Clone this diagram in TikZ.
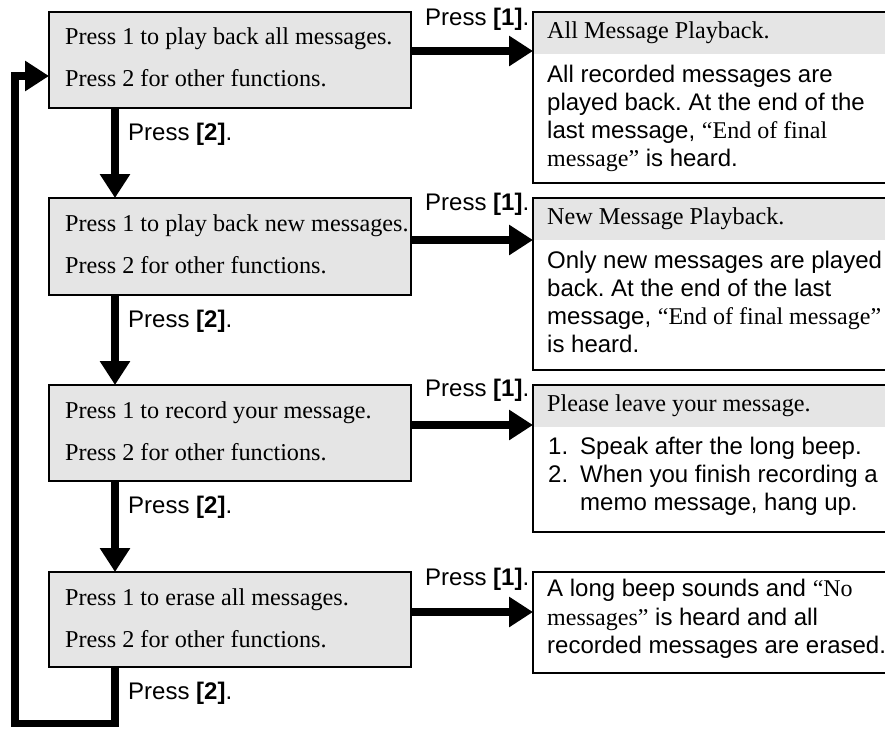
\documentclass[tikz,border=0pt]{standalone}
\usepackage{fontspec}
\setmainfont{Liberation Serif}
\setsansfont{Liberation Sans}
\usetikzlibrary{arrows.meta}
\frenchspacing
\begin{document}
\begin{tikzpicture}[x=1pt,y=-1pt,
  lbox/.style={draw, line width=2pt, fill=black!10, rectangle, minimum width=362pt, minimum height=96pt, anchor=north west, inner sep=0pt, outer sep=0pt},
  rbox/.style={draw, line width=2pt, fill=white, rectangle, minimum width=370pt, anchor=north west, inner sep=0pt, outer sep=0pt},
  hdr/.style={path picture={\fill[black!10] (path picture bounding box.north west) rectangle ([yshift=-42pt]path picture bounding box.north east);}},
  serif/.style={font=\fontsize{24.2}{28}\selectfont\rmfamily\frenchspacing, anchor=base west, inner sep=0pt},
  sans/.style={font=\fontsize{24}{28}\selectfont\sffamily\frenchspacing, anchor=base west, inner sep=0pt},
  flow/.style={line width=7.5pt, -{Triangle[length=24pt,width=29pt]}},
]
\useasboundingbox (0,0) rectangle (885,728);

% left boxes
\node[lbox] (b1) at (49,12) {};
\node[lbox, minimum height=97pt] (b2) at (49,198) {};
\node[lbox] (b3) at (49,385) {};
\node[lbox, minimum height=95pt] (b4) at (49,572) {};

% right boxes
\node[rbox, hdr, minimum height=171pt] (r1) at (533,12) {};
\node[rbox, hdr, minimum height=172pt] (r2) at (533,198) {};
\node[rbox, hdr, minimum height=147pt] (r3) at (533,385) {};
\node[rbox, minimum height=101pt] (r4) at (533,572) {};

% left texts
\node[serif] (t1a) at (65,44) {Press 1 to play back all messages.};
\node[serif] (t1b) at (65,86) {Press 2 for other functions.};
\node[serif] (t2a) at (65,231) {Press 1 to play back new messages.};
\node[serif] (t2b) at (65,273) {Press 2 for other functions.};
\node[serif] (t3a) at (65,418) {Press 1 to record your message.};
\node[serif] (t3b) at (65,460) {Press 2 for other functions.};
\node[serif] (t4a) at (65,605) {Press 1 to erase all messages.};
\node[serif] (t4b) at (65,647) {Press 2 for other functions.};

% right texts
\node[serif] (h1) at (547,38) {All Message Playback.};
\node[sans] (r1l1) at (547,82) {All recorded messages are};
\node[sans] (r1l2) at (547,110) {played back. At the end of the};
\node[sans] (r1l3) at (547,138) {last message, {\rmfamily “End of final}};
\node[sans] (r1l4) at (547,166) {{\rmfamily message”} is heard.};

\node[serif] (h2) at (547,224) {New Message Playback.};
\node[sans] (r2l1) at (547,268) {Only new messages are played};
\node[sans] (r2l2) at (547,296) {back. At the end of the last};
\node[sans] (r2l3) at (547,324) {message, {\rmfamily “End of final message”}};
\node[sans] (r2l4) at (547,352) {is heard.};

\node[serif] (h3) at (547,411) {Please leave your message.};
\node[sans] (n1) at (548,454) {1.};
\node[sans] (r3l1) at (580,454) {Speak after the long beep.};
\node[sans] (n2) at (548,482) {2.};
\node[sans] (r3l2) at (580,482) {When you finish recording a};
\node[sans] (r3l3) at (580,510) {memo message, hang up.};

\node[sans] (r4l1) at (547,596) {A long beep sounds and {\rmfamily “No}};
\node[sans] (r4l2) at (547,625) {{\rmfamily messages”} is heard and all};
\node[sans] (r4l3) at (547,653) {recorded messages are erased.};

% labels
\node[sans] (p11) at (425,25) {Press \textbf{[1]}.};
\node[sans] (p12) at (425,210) {Press \textbf{[1]}.};
\node[sans] (p13) at (425,396) {Press \textbf{[1]}.};
\node[sans] (p14) at (425,585) {Press \textbf{[1]}.};
\node[sans] (p21) at (128,140) {Press \textbf{[2]}.};
\node[sans] (p22) at (128,327) {Press \textbf{[2]}.};
\node[sans] (p23) at (128,513) {Press \textbf{[2]}.};
\node[sans] (p24) at (128,699) {Press \textbf{[2]}.};

% right arrows
\draw[flow] (b1.east |- 0,51) -- (r1.west |- 0,51);
\draw[flow] (b2.east |- 0,240) -- (r2.west |- 0,240);
\draw[flow] (b3.east |- 0,425) -- (r3.west |- 0,425);
\draw[flow] (b4.east |- 0,612) -- (r4.west |- 0,612);

% down arrows
\draw[flow] (b1.south -| 115,0) -- (b2.north -| 115,0);
\draw[flow] (b2.south -| 115,0) -- (b3.north -| 115,0);
\draw[flow] (b3.south -| 115,0) -- (b4.north -| 115,0);

% loop back
\coordinate (c1) at (115,723.5);
\coordinate (c2) at (15,723.5);
\coordinate (c3) at (15,76);
\draw[flow] (b4.south -| 115,0) -- (c1) -- (c2) -- (c3) -- (b1.west |- c3);
\end{tikzpicture}
\end{document}
